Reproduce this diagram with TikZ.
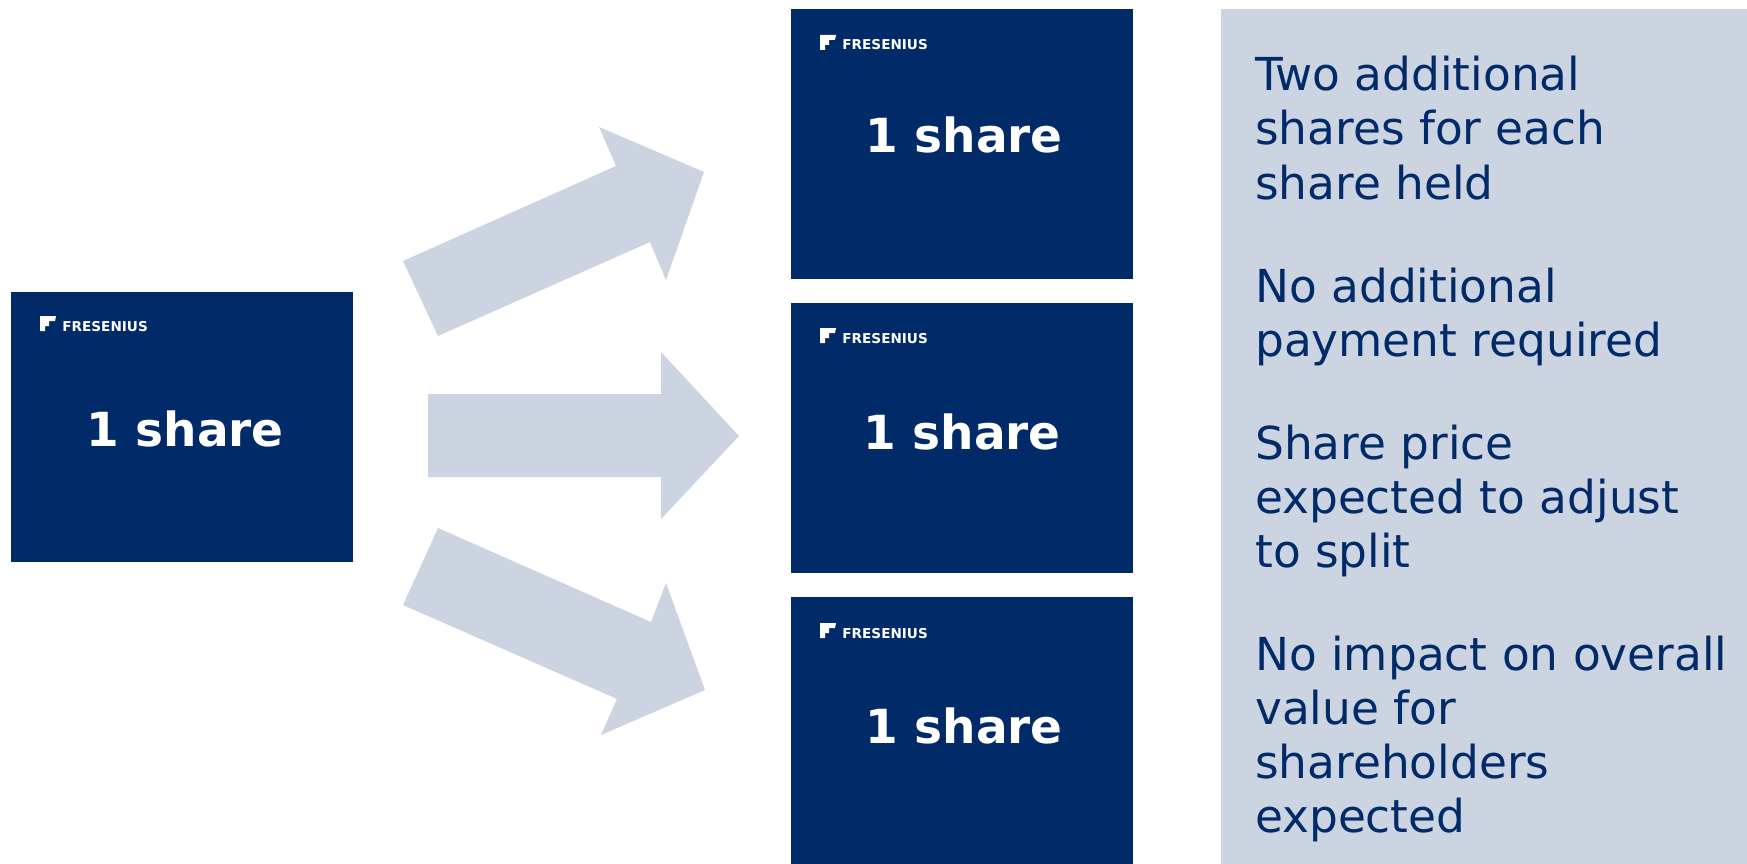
\documentclass[tikz,border=0pt]{standalone}
\usepackage{fontspec}
\setmainfont{DejaVu Sans}
\definecolor{navy}{HTML}{002A68}
\definecolor{pale}{HTML}{CCD4E1}
\tikzset{
 x=1pt,y=-1pt,
 sharebox/.style={fill=navy,draw=none,inner sep=0pt,minimum width=342pt,minimum height=270pt,anchor=north west},
 sharetext/.style={text=white,font=\fontsize{47}{47}\selectfont\bfseries,anchor=base,inner sep=0pt},
 logotext/.style={text=white,font=\fontsize{13.6}{13.6}\selectfont\bfseries,anchor=base west,inner sep=0pt},
 paneltext/.style={text=navy,font=\fontsize{45.4}{45.4}\selectfont,anchor=base west,inner sep=0pt},
 bigarrow/.style={fill=pale,draw=none},
}
\newcommand{\sharecard}[6]{% name, x, y, text xshift, text baseline, logo baseline
 \node[sharebox] (#1) at (#2,#3) {};
 \node[sharetext] (#1t) at ([xshift=#4pt,yshift=-#5pt]#1.north) {1 share};
 \fill[white,shift={(#2+29,#3+#6-15)}] (0,0)--(16,0)--(15,5)--(9,5)--(9,10)--(5,10)--(5,15)--(0,15)--cycle;
 \node[logotext] (#1l) at ([xshift=-120pt,yshift=-#6pt]#1.north) {FRESENIUS};
}
\begin{document}
\begin{tikzpicture}
\useasboundingbox (0,0) rectangle (1747,864);
\fill[white] (0,0) rectangle (1747,864);
\fill[pale] (1221,9) rectangle (1747,864);
\sharecard{a}{11}{292}{3}{154}{39}
\sharecard{b}{791}{9}{2}{144}{41}
\sharecard{c}{791}{303}{0}{146}{40}
\sharecard{d}{791}{597}{2}{146}{41}
\fill[bigarrow] (403,261)--(616,166)--(599,127)--(704,172)--(666,280)--(650,242)--(438,336)--cycle;
\fill[bigarrow] (428,394)--(661,394)--(661,352)--(739,436)--(661,519)--(661,477)--(428,477)--cycle;
\fill[bigarrow] (403,605)--(438,528)--(651,622)--(666,583)--(705,690)--(601,735)--(617,699)--cycle;
\node[paneltext] (p1) at (1255,91) {Two additional};
\node[paneltext] (p2) at (1255,145) {shares for each};
\node[paneltext] (p3) at (1255,199) {share held};
\node[paneltext] (p4) at (1255,302) {No additional};
\node[paneltext] (p5) at (1255,356) {payment required};
\node[paneltext] (p6) at (1255,459) {Share price};
\node[paneltext] (p7) at (1255,513) {expected to adjust};
\node[paneltext] (p8) at (1255,567) {to split};
\node[paneltext] (p9) at (1255,670) {No impact on overall};
\node[paneltext] (p10) at (1255,724) {value for};
\node[paneltext] (p11) at (1255,778) {shareholders};
\node[paneltext] (p12) at (1255,832) {expected};
\end{tikzpicture}
\end{document}
